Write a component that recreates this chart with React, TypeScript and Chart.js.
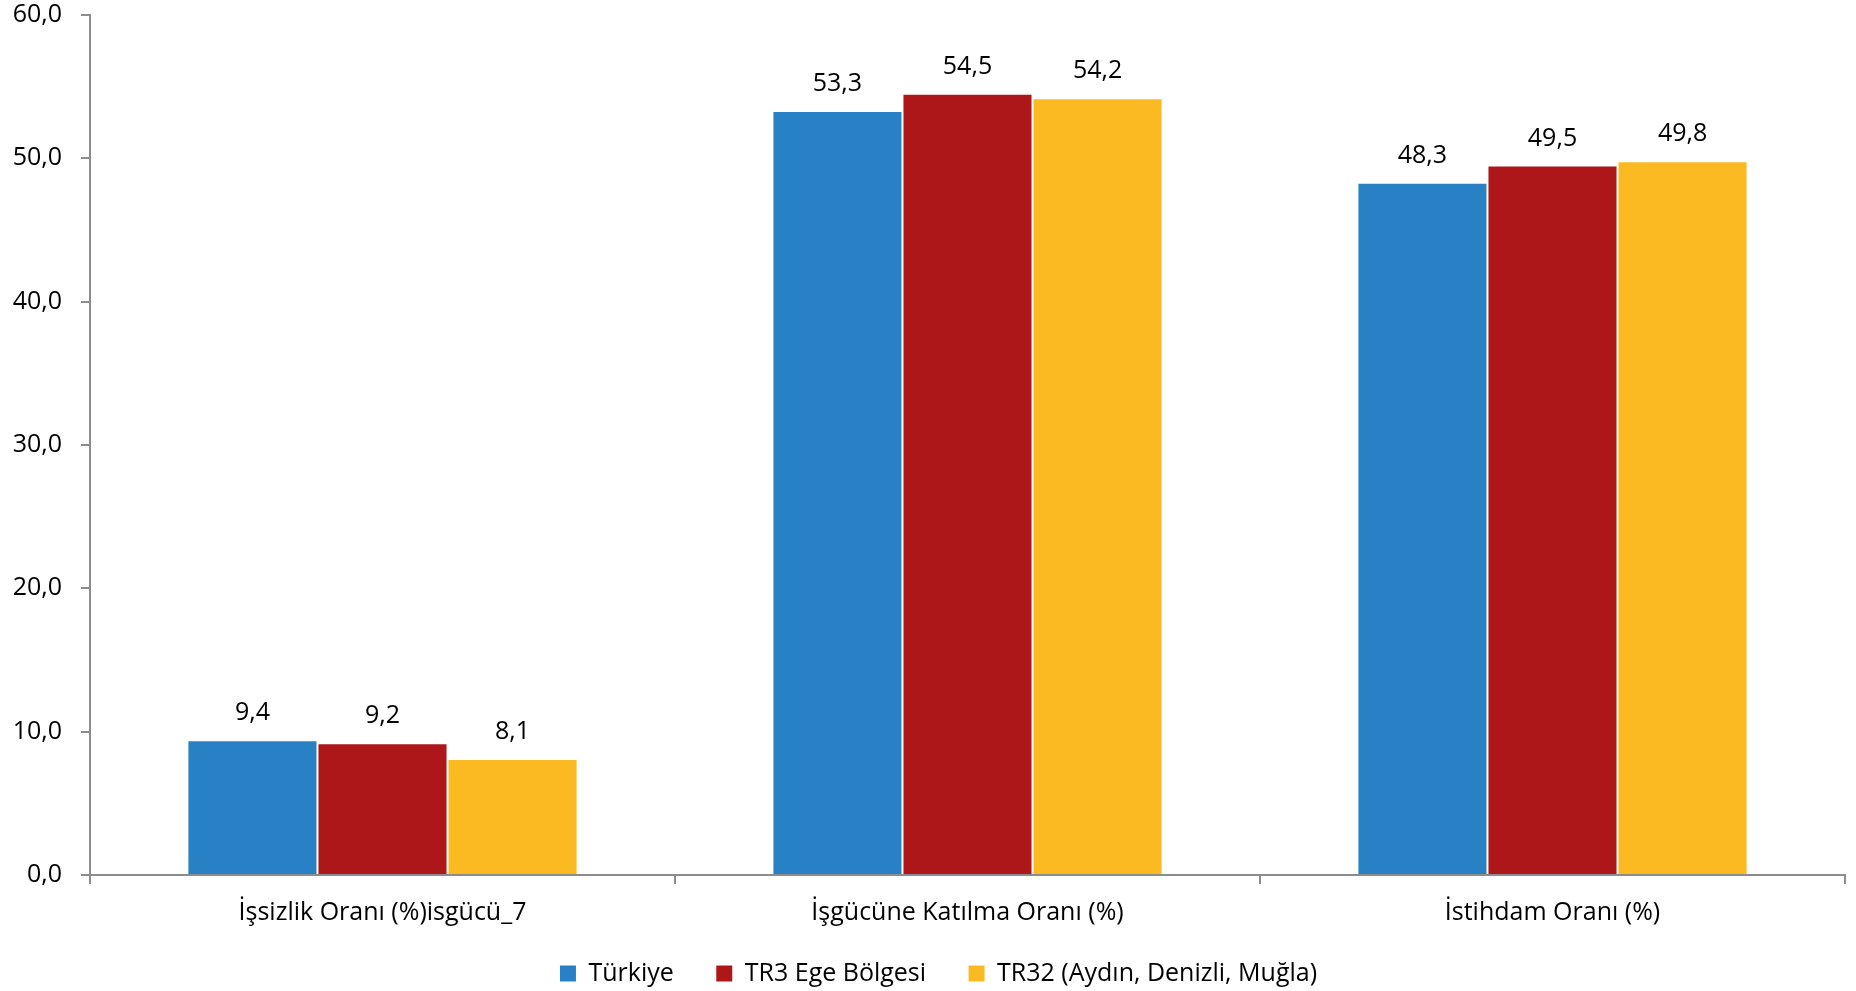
import React, { useEffect, useRef } from "react";
import { Chart, registerables } from "chart.js";

Chart.register(...registerables);

const categories = [
  "İşsizlik Oranı (%)isgücü_7",
  "İşgücüne Katılma Oranı (%)",
  "İstihdam Oranı (%)",
];
const seriesNames = ["Türkiye", "TR3 Ege Bölgesi", "TR32 (Aydın, Denizli, Muğla)"];
const turkiyeValues = [9.4, 53.3, 48.3];
const tr3Values = [9.2, 54.5, 49.5];
const tr32Values = [8.1, 54.2, 49.8];
const seriesColors = ["#2880C5", "#AE1719", "#FBBA22"];
const yMin = 0;
const yMax = 60;
const yStep = 10;

const FONT = "'Open Sans', Lato, sans-serif";
const FONT_SIZE = 25;
const AXIS_COLOR = "#8c8c8c";
const LEGEND_GAP = "\u00A0\u00A0\u00A0\u00A0\u00A0";

const fmt = (v: number) => v.toFixed(1).replace(".", ",");

const valueLabelPlugin = {
  id: "valueLabels",
  afterDatasetsDraw(chart: any) {
    const ctx = chart.ctx;
    ctx.save();
    ctx.font = `${FONT_SIZE}px ${FONT}`;
    ctx.fillStyle = "#000";
    ctx.textAlign = "center";
    ctx.textBaseline = "alphabetic";
    chart.data.datasets.forEach((ds: any, di: number) => {
      const meta = chart.getDatasetMeta(di);
      meta.data.forEach((bar: any, i: number) => {
        ctx.fillText(fmt(ds.data[i]), bar.x, bar.y - 20);
      });
    });
    ctx.restore();
  },
};

const legendShiftPlugin = {
  id: "legendShift",
  afterLayout(chart: any) {
    if (chart.legend) {
      chart.legend.left += 32;
    }
  },
};

export default function App() {
  const canvasRef = useRef<HTMLCanvasElement | null>(null);

  useEffect(() => {
    if (!canvasRef.current) return;
    const values = [turkiyeValues, tr3Values, tr32Values];
    const chart = new Chart(canvasRef.current, {
      type: "bar",
      data: {
        labels: categories,
        datasets: seriesNames.map((name, i) => ({
          label: name,
          data: values[i],
          backgroundColor: seriesColors[i],
          borderColor: "rgba(255,255,255,0.3)",
          borderWidth: 1,
          barPercentage: 1,
          categoryPercentage: 0.667,
        })),
      },
      options: {
        animation: false,
        responsive: true,
        maintainAspectRatio: false,
        layout: { padding: { top: 15, right: 11, left: 0, bottom: 0 } },
        plugins: {
          tooltip: { enabled: false },
          legend: {
            position: "bottom",
            maxHeight: 40,
            labels: {
              boxWidth: 16,
              boxHeight: 16,
              padding: 10,
              color: "#000",
              font: { family: FONT, size: FONT_SIZE },
              generateLabels: (chart: any) => {
                const items = (Chart as any).defaults.plugins.legend.labels.generateLabels(chart);
                return items.map((it: any, i: number) => ({
                  ...it,
                  lineWidth: 0,
                  text: i < items.length - 1 ? it.text + LEGEND_GAP : it.text,
                }));
              },
            },
          },
        },
        scales: {
          x: {
            afterFit: (scale: any) => {
              scale.height = 76;
            },
            grid: {
              offset: true,
              drawOnChartArea: false,
              drawTicks: true,
              tickLength: 9,
              color: AXIS_COLOR,
              lineWidth: 2,
            },
            border: { display: true, color: AXIS_COLOR, width: 2 },
            ticks: {
              color: "#000",
              font: { family: FONT, size: FONT_SIZE },
              padding: 14,
              maxRotation: 0,
            },
          },
          y: {
            min: yMin,
            max: yMax,
            afterFit: (scale: any) => {
              scale.width = 90;
              scale.paddingTop = 0;
              scale.paddingBottom = 0;
            },
            grid: {
              drawOnChartArea: false,
              drawTicks: true,
              tickLength: 9,
              color: AXIS_COLOR,
              lineWidth: 2,
            },
            border: { display: true, color: AXIS_COLOR, width: 2 },
            ticks: {
              stepSize: yStep,
              color: "#000",
              font: { family: FONT, size: FONT_SIZE },
              padding: 19,
              callback: (v: any) => fmt(Number(v)),
            },
          },
        },
      },
      plugins: [valueLabelPlugin, legendShiftPlugin],
    });
    return () => chart.destroy();
  }, []);

  return (
    <div
      style={{
        position: "fixed",
        left: 0,
        top: 0,
        width: 1856,
        height: 991,
        background: "#fff",
      }}
    >
      <canvas ref={canvasRef} />
    </div>
  );
}
